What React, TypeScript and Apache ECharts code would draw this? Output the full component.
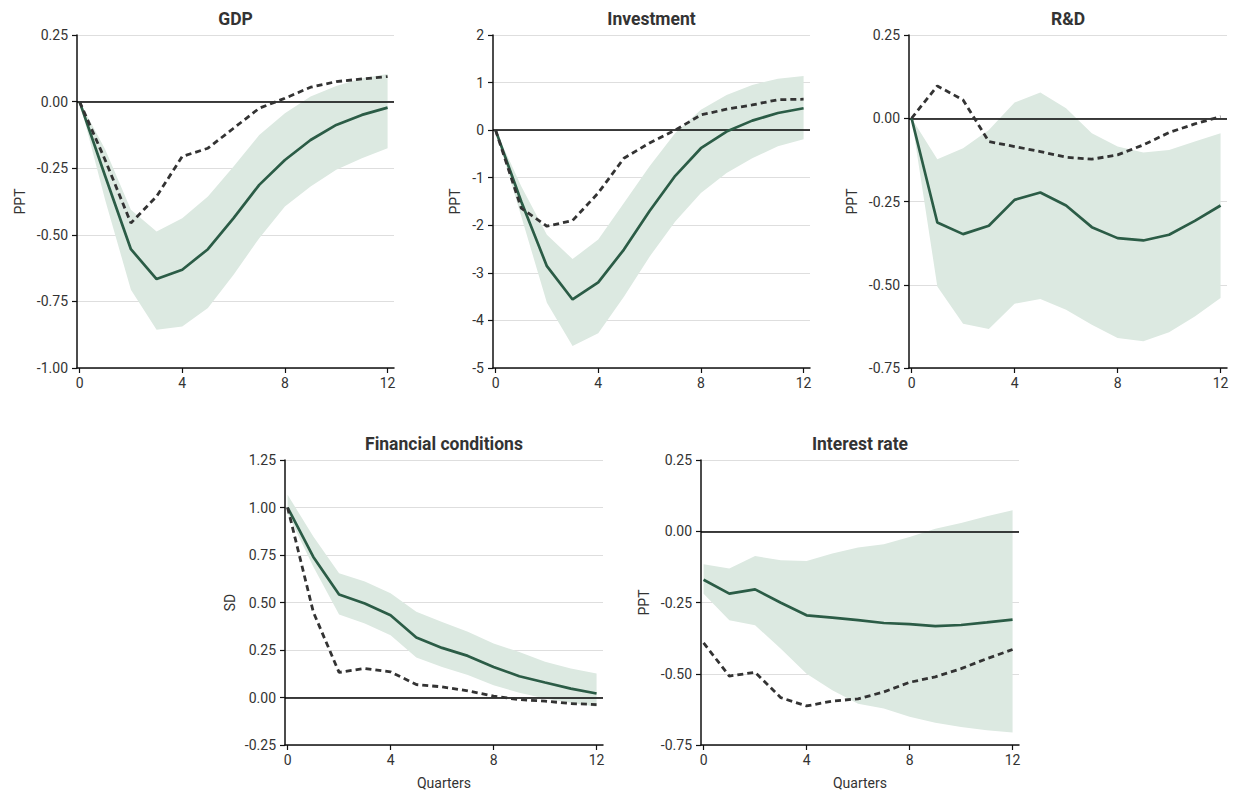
import React, { useEffect, useRef } from "react";
import * as echarts from "echarts";

const QUARTERS = [0, 1, 2, 3, 4, 5, 6, 7, 8, 9, 10, 11, 12];
const X_TICKS = [0, 4, 8, 12];

const TITLES = ["GDP", "Investment", "R&D", "Financial conditions", "Interest rate"];
const Y_NAMES = ["PPT", "PPT", "PPT", "SD", "PPT"];

const GDP_SOLID = [0, -0.28, -0.554, -0.666, -0.631, -0.554, -0.4375, -0.3125, -0.219, -0.144, -0.0875, -0.05, -0.0225];
const GDP_DASHED = [0, -0.22, -0.456, -0.356, -0.206, -0.175, -0.1, -0.025, 0.0125, 0.054, 0.075, 0.085, 0.094];
const GDP_UPPER = [0, -0.18, -0.406, -0.4875, -0.4375, -0.356, -0.244, -0.125, -0.044, 0.019, 0.059, 0.0875, 0.104];
const GDP_LOWER = [0, -0.37, -0.706, -0.856, -0.844, -0.775, -0.65, -0.5125, -0.394, -0.319, -0.256, -0.2125, -0.175];

const INV_SOLID = [0, -1.5, -2.86, -3.56, -3.2, -2.51, -1.7, -0.96, -0.38, -0.03, 0.2, 0.36, 0.46];
const INV_DASHED = [0, -1.64, -2.02, -1.9, -1.32, -0.59, -0.27, 0.0, 0.32, 0.44, 0.53, 0.64, 0.65];
const INV_UPPER = [0, -1.18, -2.2, -2.71, -2.3, -1.53, -0.76, -0.06, 0.43, 0.74, 0.95, 1.08, 1.14];
const INV_LOWER = [0, -1.81, -3.63, -4.54, -4.27, -3.5, -2.66, -1.92, -1.32, -0.9, -0.59, -0.34, -0.19];

const RD_SOLID = [0, -0.313, -0.348, -0.323, -0.245, -0.223, -0.262, -0.327, -0.36, -0.367, -0.35, -0.308, -0.262];
const RD_DASHED = [0, 0.097, 0.055, -0.07, -0.085, -0.1, -0.117, -0.123, -0.11, -0.08, -0.043, -0.017, 0.005];
const RD_UPPER = [0, -0.123, -0.09, -0.035, 0.047, 0.077, 0.03, -0.045, -0.085, -0.103, -0.095, -0.07, -0.045];
const RD_LOWER = [0, -0.505, -0.617, -0.633, -0.557, -0.543, -0.575, -0.62, -0.66, -0.67, -0.643, -0.595, -0.54];

const FIN_SOLID = [1.0, 0.74, 0.542, 0.495, 0.433, 0.316, 0.261, 0.219, 0.161, 0.112, 0.079, 0.047, 0.021];
const FIN_DASHED = [1.0, 0.45, 0.132, 0.153, 0.135, 0.068, 0.056, 0.035, 0.007, -0.011, -0.019, -0.032, -0.037];
const FIN_UPPER = [1.067, 0.848, 0.654, 0.61, 0.549, 0.451, 0.398, 0.346, 0.284, 0.24, 0.188, 0.153, 0.126];
const FIN_LOWER = [0.97, 0.688, 0.437, 0.39, 0.328, 0.21, 0.161, 0.118, 0.065, 0.025, -0.005, -0.028, -0.049];

const IR_SOLID = [-0.17, -0.219, -0.204, -0.251, -0.295, -0.303, -0.312, -0.322, -0.326, -0.333, -0.329, -0.32, -0.31];
const IR_DASHED = [-0.392, -0.508, -0.495, -0.584, -0.613, -0.596, -0.588, -0.564, -0.53, -0.511, -0.482, -0.447, -0.415];
const IR_UPPER = [-0.116, -0.131, -0.087, -0.102, -0.104, -0.078, -0.057, -0.046, -0.02, 0.009, 0.029, 0.053, 0.074];
const IR_LOWER = [-0.219, -0.312, -0.33, -0.412, -0.5, -0.558, -0.605, -0.622, -0.651, -0.672, -0.687, -0.698, -0.706];

const Y_MIN = [-1, -5, -0.75, -0.25, -0.75];
const Y_MAX = [0.25, 2, 0.25, 1.25, 0.25];
const Y_STEP = [0.25, 1, 0.25, 0.25, 0.25];
const Y_DECIMALS = [2, 0, 2, 2, 2];

const SOLIDS = [GDP_SOLID, INV_SOLID, RD_SOLID, FIN_SOLID, IR_SOLID];
const DASHES = [GDP_DASHED, INV_DASHED, RD_DASHED, FIN_DASHED, IR_DASHED];
const UPPERS = [GDP_UPPER, INV_UPPER, RD_UPPER, FIN_UPPER, IR_UPPER];
const LOWERS = [GDP_LOWER, INV_LOWER, RD_LOWER, FIN_LOWER, IR_LOWER];

const GRIDS = [
  { left: 77, top: 35, width: 317, height: 333 },
  { left: 493, top: 35, width: 317, height: 333 },
  { left: 909, top: 35, width: 318, height: 333 },
  { left: 285, top: 460, width: 318, height: 285 },
  { left: 701, top: 460, width: 318, height: 285 },
];
const NAME_GAPS = [50, 31, 50, 48, 50];

const FONT = "Roboto, 'Noto Sans', sans-serif";
const TEXT = "#333333";
const GREEN = "#2b5c46";
const BAND = "#dce9e1";
const DASH = "#333333";

function buildOption() {
  const grid = GRIDS.map((g) => ({ ...g, containLabel: false }));
  const title = GRIDS.map((g, i) => ({
    text: TITLES[i],
    left: g.left + g.width / 2,
    top: g.top - 25,
    padding: 0,
    textAlign: "center",
    textStyle: { fontFamily: FONT, fontSize: 17.5, fontWeight: "bold", color: TEXT },
  }));
  const xAxis = GRIDS.map((g, i) => ({
    type: "value",
    gridIndex: i,
    min: -0.1,
    max: 12.25,
    name: i >= 3 ? "Quarters" : "",
    nameLocation: "middle",
    nameGap: 31,
    nameTextStyle: { fontFamily: FONT, fontSize: 14, color: TEXT },
    axisLine: { show: true, onZero: false, lineStyle: { color: "#111", width: 1.5 } },
    axisTick: { show: true, length: 5, customValues: X_TICKS, lineStyle: { color: "#111", width: 1.2 } },
    axisLabel: { customValues: X_TICKS, fontFamily: FONT, fontSize: 14, color: TEXT, margin: 8 },
    splitLine: { show: false },
  }));
  const yAxis = GRIDS.map((g, i) => ({
    type: "value",
    gridIndex: i,
    min: Y_MIN[i],
    max: Y_MAX[i],
    interval: Y_STEP[i],
    name: Y_NAMES[i],
    nameLocation: "middle",
    nameRotate: 90,
    nameGap: NAME_GAPS[i],
    nameTextStyle: { fontFamily: FONT, fontSize: 14, color: TEXT },
    axisLine: { show: true, onZero: false, lineStyle: { color: "#111", width: 1.5 } },
    axisTick: { show: true, length: 5, lineStyle: { color: "#111", width: 1.2 } },
    axisLabel: {
      fontFamily: FONT,
      fontSize: 14,
      color: TEXT,
      margin: 9,
      formatter: (v: number) => v.toFixed(Y_DECIMALS[i]),
    },
    splitLine: { show: true, lineStyle: { color: "#dedede", width: 1 } },
  }));

  const series: any[] = [];
  for (let i = 0; i < 5; i++) {
    const up = UPPERS[i];
    const lo = LOWERS[i];
    series.push({
      type: "custom",
      xAxisIndex: i,
      yAxisIndex: i,
      silent: true,
      z: 1,
      data: QUARTERS.map((q, j) => [q, lo[j], up[j]]),
      encode: { x: 0, y: [1, 2] },
      renderItem: (params: any, api: any) => {
        if (params.dataIndex !== 0) return { type: "group", children: [] };
        const top = QUARTERS.map((q, j) => api.coord([q, up[j]]));
        const bot = QUARTERS.map((q, j) => api.coord([q, lo[j]])).reverse();
        return {
          type: "polygon",
          shape: { points: top.concat(bot) },
          style: { fill: BAND },
        };
      },
    });
    series.push({
      type: "line",
      xAxisIndex: i,
      yAxisIndex: i,
      z: 3,
      showSymbol: false,
      silent: true,
      data: QUARTERS.map((q, j) => [q, SOLIDS[i][j]]),
      lineStyle: { color: GREEN, width: 2.7 },
      markLine: {
        silent: true,
        symbol: ["none", "none"],
        label: { show: false },
        lineStyle: { color: "#000", width: 1.5, type: "solid" },
        data: [{ yAxis: 0 }],
        z: 2,
      },
    });
    series.push({
      type: "line",
      xAxisIndex: i,
      yAxisIndex: i,
      z: 4,
      showSymbol: false,
      silent: true,
      data: QUARTERS.map((q, j) => [q, DASHES[i][j]]),
      lineStyle: { color: DASH, width: 2.8, type: [6, 4] },
    });
  }

  return {
    animation: false,
    backgroundColor: "#ffffff",
    textStyle: { fontFamily: FONT },
    title,
    grid,
    xAxis,
    yAxis,
    series,
  };
}

export default function App() {
  const ref = useRef<HTMLDivElement>(null);
  useEffect(() => {
    if (!ref.current) return;
    const chart = echarts.init(ref.current, undefined, { renderer: "svg" });
    chart.setOption(buildOption() as any);
    return () => chart.dispose();
  }, []);
  return (
    <div
      ref={ref}
      style={{ position: "fixed", left: 0, top: 0, width: 1233, height: 791, background: "#fff" }}
    />
  );
}
